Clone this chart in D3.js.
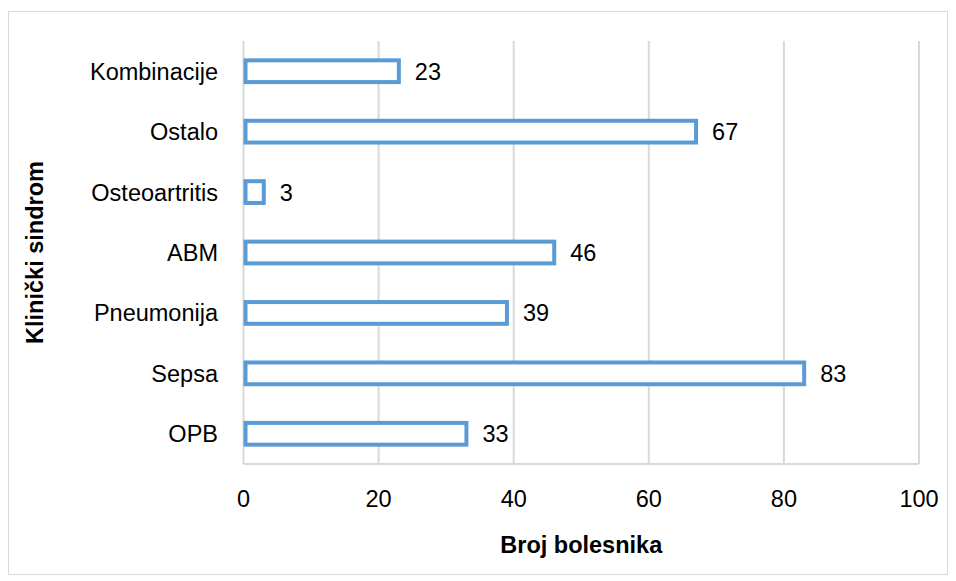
<!doctype html>
<html>
  <head>
    <meta charset="utf-8" />
    <style>
      body { margin: 0; background: #fff; }
      text { font-family: "Liberation Sans", sans-serif; fill: #000; font-size: 23.5px; }
      .grid line { stroke: #d9d9d9; stroke-width: 2px; }
      .bar { fill: #fff; stroke: #5b9bd5; stroke-width: 4px; }
    </style>
  </head>
  <body>
    <div id="chart"></div>
    <script src="https://cdn.jsdelivr.net/npm/d3@7"></script>
    <script>
      // categories top to bottom, as in the picture
      var categories = ["Kombinacije", "Ostalo", "Osteoartritis", "ABM", "Pneumonija", "Sepsa", "OPB"];
      var values = [23, 67, 3, 46, 39, 83, 33];
      var xTicks = [0, 20, 40, 60, 80, 100];

      var width = 956, height = 581;
      var margin = {top: 41, right: 37, bottom: 117, left: 243.5};

      var svg = d3.select("#chart").append("svg")
                  .attr("width", width)
                  .attr("height", height);

      // outer chart border
      svg.append("rect")
         .attr("x", 8.5).attr("y", 11.5)
         .attr("width", 939).attr("height", 563)
         .attr("fill", "none")
         .attr("stroke", "#d9d9d9")
         .attr("stroke-width", 1);

      var x = d3.scaleLinear()
                .domain([0, 100])
                .range([margin.left, width - margin.right]);

      var y = d3.scaleBand()
                .domain(categories)
                .range([margin.top, height - margin.bottom])
                .paddingInner(0.64)
                .paddingOuter(0.32);

      // vertical gridlines (including the axis line at 0)
      svg.append("g")
         .attr("class", "grid")
         .selectAll("line")
         .data(xTicks)
         .enter().append("line")
         .attr("x1", function(d) { return x(d); })
         .attr("x2", function(d) { return x(d); })
         .attr("y1", margin.top)
         .attr("y2", height - margin.bottom);

      // baseline at bottom of plot
      svg.append("line")
         .attr("x1", x(0)).attr("x2", x(100))
         .attr("y1", height - margin.bottom).attr("y2", height - margin.bottom)
         .attr("stroke", "#d9d9d9").attr("stroke-width", 2);

      // bars
      svg.selectAll(".bar")
         .data(categories)
         .enter().append("rect")
         .attr("class", "bar")
         .attr("x", x(0) + 2)
         .attr("y", function(d) { return y(d); })
         .attr("width", function(d, i) { return x(values[i]) - x(0) - 2; })
         .attr("height", y.bandwidth());

      // value labels
      svg.selectAll(".val")
         .data(categories)
         .enter().append("text")
         .attr("class", "val")
         .attr("x", function(d, i) { return x(values[i]) + 16; })
         .attr("y", function(d) { return y(d) + y.bandwidth() / 2; })
         .attr("dy", "0.36em")
         .text(function(d, i) { return values[i]; });

      // category labels
      svg.selectAll(".cat")
         .data(categories)
         .enter().append("text")
         .attr("class", "cat")
         .attr("x", 218)
         .attr("y", function(d) { return y(d) + y.bandwidth() / 2; })
         .attr("dy", "0.36em")
         .attr("text-anchor", "end")
         .text(function(d) { return d; });

      // x tick labels
      svg.selectAll(".xt")
         .data(xTicks)
         .enter().append("text")
         .attr("class", "xt")
         .attr("x", function(d) { return x(d); })
         .attr("y", 499)
         .attr("dy", "0.36em")
         .attr("text-anchor", "middle")
         .text(function(d) { return d; });

      // axis titles
      svg.append("text")
         .attr("x", (x(0) + x(100)) / 2)
         .attr("y", 545)
         .attr("dy", "0.36em")
         .attr("text-anchor", "middle")
         .style("font-weight", "bold")
         .text("Broj bolesnika");

      svg.append("text")
         .attr("transform", "translate(35," + ((margin.top + height - margin.bottom) / 2) + ") rotate(-90)")
         .attr("dy", "0.36em")
         .attr("text-anchor", "middle")
         .style("font-weight", "bold")
         .text("Klinički sindrom");
    </script>
  </body>
</html>
